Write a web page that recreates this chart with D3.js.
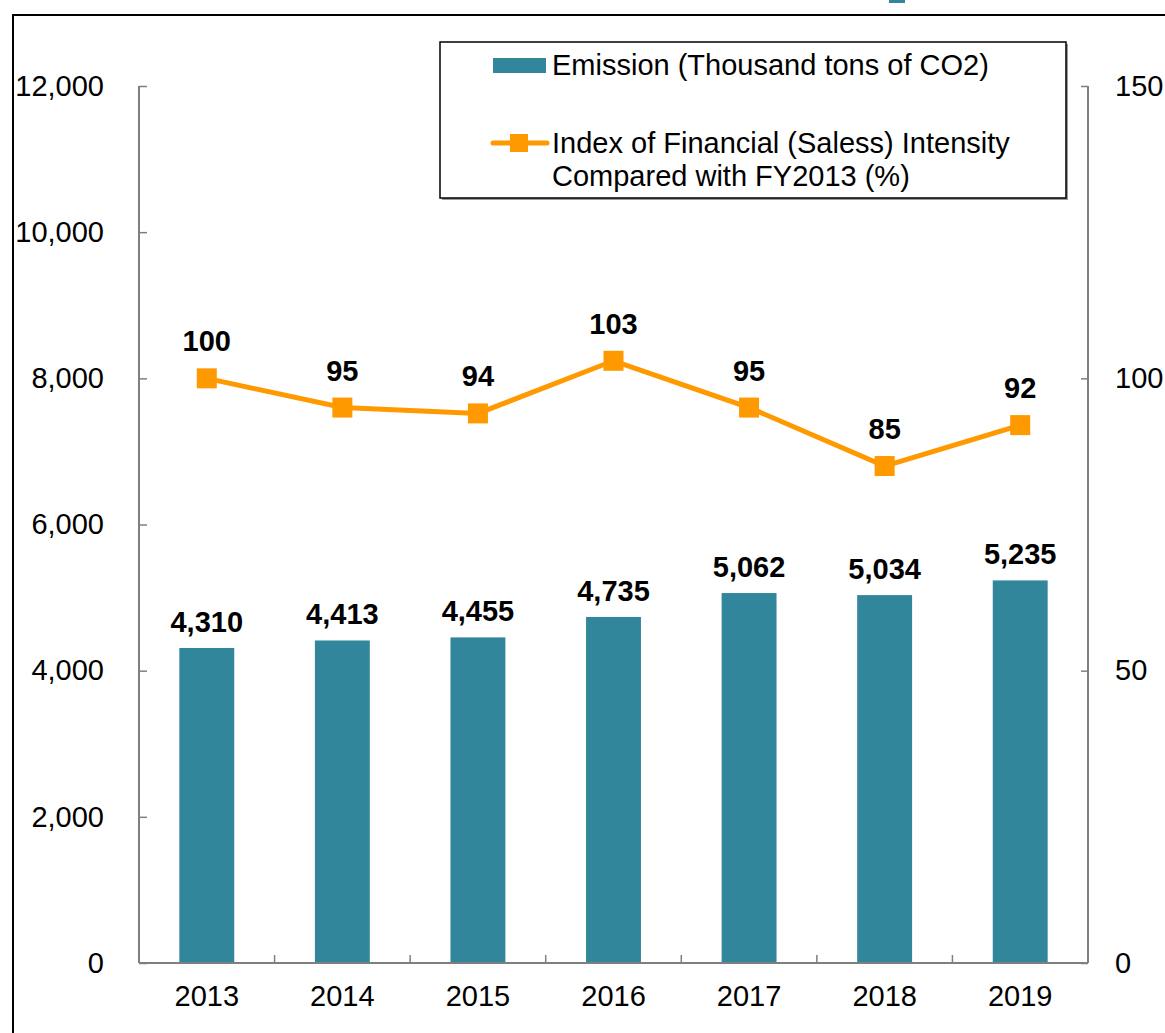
<!DOCTYPE html>
<html>
<head>
<meta charset="utf-8">
<script src="https://cdn.jsdelivr.net/npm/d3@7"></script>
<style>
  body { margin: 0; background: #fff; }
  svg { display: block; font-family: "Liberation Sans", Arial, sans-serif; }
</style>
</head>
<body>
<svg id="chart" width="1165" height="1033"></svg>
<script>
const years = ["2013", "2014", "2015", "2016", "2017", "2018", "2019"];
const emission = [4310, 4413, 4455, 4735, 5062, 5034, 5235];
const intensity = [100, 95, 94, 103, 95, 85, 92];
const leftTicks = [0, 2000, 4000, 6000, 8000, 10000, 12000];
const rightTicks = [0, 50, 100, 150];

const barColor = "#31869b";
const lineColor = "#ff9900";
const axisColor = "#7f7f7f";
const fs = 29;

const svg = d3.select("#chart");
const margin = { top: 86, right: 77, bottom: 70, left: 139 };
const W = 1165, H = 1033;
const plotBottom = 963;

// outer frame
svg.append("rect")
  .attr("x", 13).attr("y", 15)
  .attr("width", W).attr("height", H)
  .attr("fill", "none").attr("stroke", "#000").attr("stroke-width", 2);

// tiny clipped mark at the top
svg.append("rect")
  .attr("x", 889).attr("y", -4).attr("width", 16).attr("height", 7)
  .attr("fill", barColor);

const x = d3.scaleBand().domain(years).range([margin.left, W - margin.right]).paddingInner(0.595).paddingOuter(0.2975);
const xOuter = d3.scaleBand().domain(years).range([margin.left, W - margin.right]);
const yL = d3.scaleLinear().domain([0, 12000]).range([plotBottom, margin.top]);
const yR = d3.scaleLinear().domain([0, 150]).range([plotBottom, margin.top]);

// bars
svg.selectAll(".bar").data(years).join("rect")
  .attr("class", "bar")
  .attr("x", d => x(d))
  .attr("width", x.bandwidth())
  .attr("y", (d, i) => yL(emission[i]))
  .attr("height", (d, i) => plotBottom - yL(emission[i]))
  .attr("fill", barColor);

// left axis
const leftAxis = svg.append("g").attr("transform", `translate(${margin.left},0)`)
  .call(d3.axisLeft(yL).tickValues(leftTicks).tickSize(-8).tickPadding(35).tickFormat(d3.format(",")));
// right axis
const rightAxis = svg.append("g").attr("transform", `translate(${W - margin.right},0)`)
  .call(d3.axisRight(yR).tickValues(rightTicks).tickSize(-7).tickPadding(27));
// bottom axis
const bottomAxis = svg.append("g").attr("transform", `translate(0,${plotBottom})`)
  .call(d3.axisBottom(xOuter).tickSize(0).tickPadding(22));

[leftAxis, rightAxis, bottomAxis].forEach(g => {
  g.select(".domain").attr("stroke", axisColor).attr("stroke-width", 2);
  g.selectAll(".tick line").attr("stroke", axisColor).attr("stroke-width", 1.5);
  g.selectAll("text").attr("font-size", fs).attr("fill", "#000")
    .attr("font-family", "'Liberation Sans', Arial, sans-serif");
});
leftAxis.select(".domain").attr("d", `M0,${margin.top}V${plotBottom}`);
rightAxis.select(".domain").attr("d", `M0,${margin.top}V${plotBottom}`);
bottomAxis.select(".domain").attr("d", `M${margin.left},0H${W - margin.right}`);
bottomAxis.selectAll(".tick text").attr("dy", "0.71em");

// category separators on x axis
svg.append("g").selectAll("line").data(years.slice(1)).join("line")
  .attr("x1", d => xOuter(d)).attr("x2", d => xOuter(d))
  .attr("y1", plotBottom).attr("y2", plotBottom - 8)
  .attr("stroke", axisColor).attr("stroke-width", 1.5);

// bar labels
svg.selectAll(".blabel").data(years).join("text")
  .attr("x", d => x(d) + x.bandwidth() / 2)
  .attr("y", (d, i) => yL(emission[i]) - 16)
  .attr("text-anchor", "middle")
  .attr("font-size", fs).attr("font-weight", "bold")
  .text((d, i) => d3.format(",")(emission[i]));

// line
const cx = d => xOuter(d) + xOuter.bandwidth() / 2;
svg.append("path")
  .datum(years)
  .attr("fill", "none").attr("stroke", lineColor).attr("stroke-width", 5)
  .attr("d", d3.line().x(d => cx(d)).y((d, i) => yR(intensity[i])));

svg.selectAll(".marker").data(years).join("rect")
  .attr("x", d => cx(d) - 10)
  .attr("y", (d, i) => yR(intensity[i]) - 10)
  .attr("width", 20).attr("height", 20)
  .attr("fill", lineColor);

svg.selectAll(".llabel").data(years).join("text")
  .attr("x", d => cx(d))
  .attr("y", (d, i) => yR(intensity[i]) - 27)
  .attr("text-anchor", "middle")
  .attr("font-size", fs).attr("font-weight", "bold")
  .text((d, i) => intensity[i]);

// legend
const lg = svg.append("g");
lg.append("rect").attr("x", 442).attr("y", 44).attr("width", 626).attr("height", 156).attr("fill", "#999");
lg.append("rect").attr("x", 440).attr("y", 42).attr("width", 626).attr("height", 156)
  .attr("fill", "#fff").attr("stroke", "#000").attr("stroke-width", 1.5);
lg.append("rect").attr("x", 493).attr("y", 58).attr("width", 53).attr("height", 15).attr("fill", barColor);
lg.append("text").attr("x", 552).attr("y", 75).attr("font-size", fs).text("Emission (Thousand tons of CO2)");
lg.append("line").attr("x1", 493).attr("x2", 547).attr("y1", 143).attr("y2", 143)
  .attr("stroke", lineColor).attr("stroke-width", 5).attr("stroke-linecap", "round");
lg.append("rect").attr("x", 510).attr("y", 134).attr("width", 18).attr("height", 18).attr("fill", lineColor);
lg.append("text").attr("x", 552).attr("y", 153).attr("font-size", fs).text("Index of Financial (Saless) Intensity");
lg.append("text").attr("x", 552).attr("y", 186).attr("font-size", fs).text("Compared with FY2013 (%)");
</script>
</body>
</html>
